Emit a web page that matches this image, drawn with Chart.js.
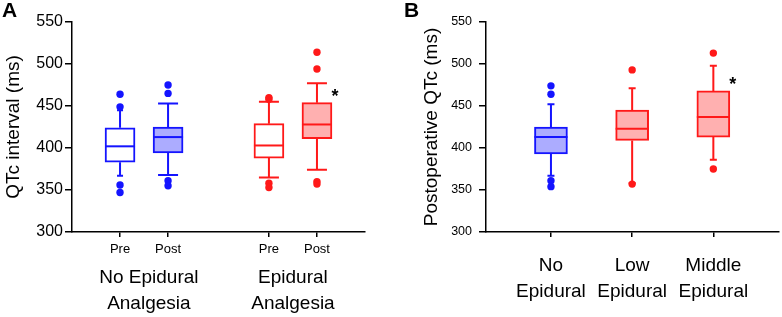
<!DOCTYPE html>
<html><head><meta charset="utf-8">
<script src="https://cdn.jsdelivr.net/npm/chart.js@4.4.0/dist/chart.umd.min.js"></script>
<style>
html,body{margin:0;padding:0;background:#fff;}
#wrap{position:relative;width:782px;height:317px;overflow:hidden;}
#ca{position:absolute;left:0;top:0;}
#cb{position:absolute;left:400px;top:0;}
</style></head><body>
<div id="wrap"><canvas id="ca" width="400" height="317"></canvas><canvas id="cb" width="382" height="317"></canvas></div>
<script>
// ---------- Panel A data ----------
const aCategories = ['Pre', 'Post', 'Pre', 'Post'];
const aGroupLabels = [['No Epidural', 'Analgesia'], ['Epidural', 'Analgesia']];
const aMin    = [367, 368, 365, 374];
const aQ1     = [383, 394, 388, 411];
const aMedian = [402, 413, 403, 428];
const aQ3     = [424, 425, 429, 454];
const aMax    = [445, 453, 455, 477];
const aOutliers = [[464, 449, 356, 347], [475, 465, 361, 355], [460, 458, 358, 353], [514, 494, 360, 357]];
const aMarks  = ['', '', '', '*'];
const aYTitle = 'QTc interval (ms)';

// ---------- Panel B data ----------
const bCategories = [['No', 'Epidural'], ['Low', 'Epidural'], ['Middle', 'Epidural']];
const bMin    = [367, 358, 386];
const bQ1     = [393, 409, 413];
const bMedian = [413, 423, 437];
const bQ3     = [425, 445, 468];
const bMax    = [452, 471, 498];
const bOutliers = [[474, 464, 361, 354], [493, 357], [513, 375]];
const bMarks  = ['', '', '*'];
const bYTitle = 'Postoperative QTc (ms)';

const yTicks = [300, 350, 400, 450, 500, 550];

// ---------- layout / style (not data) ----------
const FONT = '"Liberation Sans", Arial, Helvetica, sans-serif';
const BLUE = 'rgb(20,20,255)', BLUE_FILL = 'rgb(172,172,255)';
const RED = 'rgb(255,25,25)', RED_FILL = 'rgb(255,176,176)';
const aPos = [1, 2, 4.1, 5.1], aGroupPos = [1.6, 4.6];
const bPos = [0.8, 1.8, 2.8];

Chart.defaults.font.family = FONT;
Chart.defaults.color = '#000';

function makeBoxPlugin(cfg) {
  return {
    id: 'boxExtras' + cfg.letter,
    beforeDatasetsDraw(chart) {
      const {ctx, scales: {x, y}} = chart;
      ctx.save();
      ctx.lineWidth = 2;
      cfg.pos.forEach((p, i) => {
        const px = x.getPixelForValue(p);
        const yMax = y.getPixelForValue(cfg.max[i]), yQ3 = y.getPixelForValue(cfg.q3[i]);
        const yMin = y.getPixelForValue(cfg.min[i]), yQ1 = y.getPixelForValue(cfg.q1[i]);
        const cw = cfg.capWidth[i] / 2;
        ctx.strokeStyle = cfg.stroke[i];
        ctx.beginPath();
        ctx.moveTo(px, yQ3); ctx.lineTo(px, yMax);
        ctx.moveTo(px, yQ1); ctx.lineTo(px, yMin);
        ctx.moveTo(px - cw, yMax); ctx.lineTo(px + cw, yMax);
        ctx.moveTo(px - cw, yMin); ctx.lineTo(px + cw, yMin);
        ctx.stroke();
      });
      ctx.restore();
    },
    afterDatasetsDraw(chart) {
      const {ctx, scales: {x, y}} = chart;
      ctx.save();
      ctx.lineWidth = 2;
      cfg.pos.forEach((p, i) => {
        const px = x.getPixelForValue(p);
        const ym = y.getPixelForValue(cfg.median[i]);
        const hw = cfg.boxWidth / 2;
        ctx.strokeStyle = cfg.stroke[i];
        ctx.beginPath();
        ctx.moveTo(px - hw, ym); ctx.lineTo(px + hw, ym);
        ctx.stroke();
        if (cfg.marks[i]) {
          ctx.fillStyle = '#000';
          ctx.font = 'bold 18px ' + FONT;
          ctx.textAlign = 'center';
          ctx.textBaseline = 'alphabetic';
          ctx.fillText(cfg.marks[i], px + hw + 3, y.getPixelForValue(cfg.q3[i]) - 1);
        }
      });
      ctx.restore();
    },
    afterDraw(chart) {
      const ctx = chart.ctx;
      ctx.save();
      ctx.fillStyle = '#000';
      ctx.font = 'bold 21px ' + FONT;
      ctx.textAlign = 'left';
      ctx.textBaseline = 'alphabetic';
      ctx.fillText(cfg.letter, cfg.letterX, 17);
      ctx.restore();
    }
  };
}

function buildChart(el, cfg) {
  const boxes = cfg.pos.map((p, i) => ({x: p, y: [cfg.q1[i], cfg.q3[i]]}));
  const pts = [], ptColors = [];
  cfg.outliers.forEach((arr, i) => arr.forEach(v => { pts.push({x: cfg.pos[i], y: v}); ptColors.push(cfg.stroke[i]); }));
  const scales = {
    x: {
      type: 'linear', min: cfg.xMin, max: cfg.xMax, position: 'bottom', offset: false,
      afterBuildTicks: s => { s.ticks = cfg.pos.map(v => ({value: v})); },
      afterFit: s => { s.height = cfg.xHeight; },
      ticks: {autoSkip: false, maxRotation: 0, minRotation: 0, color: '#000',
        font: {size: cfg.xFont, lineHeight: cfg.xLineHeight}, padding: cfg.xPad,
        callback: (v, i) => cfg.categories[i]},
      grid: {drawOnChartArea: false, drawTicks: true, tickLength: 5, color: '#000', lineWidth: 1.5, offset: false},
      border: {display: true, color: '#000', width: 1.5}
    },
    y: {
      type: 'linear', min: 300, max: 550, position: 'left',
      afterBuildTicks: s => { s.ticks = yTicks.map(v => ({value: v})); },
      afterFit: s => { s.width = cfg.yWidth; },
      ticks: {color: '#000', font: {size: cfg.yFont}, padding: cfg.yPad},
      grid: {drawOnChartArea: false, drawTicks: true, tickLength: cfg.yTick, color: '#000', lineWidth: 1.5},
      border: {display: true, color: '#000', width: 1.5},
      title: {display: true, text: cfg.yTitle, color: '#000', font: {size: 19}, padding: {top: cfg.titlePad, bottom: 0}}
    }
  };
  if (cfg.groupLabels) {
    scales.x2 = {
      type: 'linear', min: cfg.xMin, max: cfg.xMax, position: 'bottom', offset: false,
      afterBuildTicks: s => { s.ticks = cfg.groupPos.map(v => ({value: v})); },
      afterFit: s => { s.height = cfg.x2Height; },
      ticks: {autoSkip: false, maxRotation: 0, minRotation: 0, color: '#000',
        font: {size: 19, lineHeight: 1.37}, padding: 3,
        callback: (v, i) => cfg.groupLabels[i]},
      grid: {display: false, drawTicks: false, drawOnChartArea: false},
      border: {display: false}
    };
  }
  return new Chart(el, {
    type: 'bar',
    data: {
      datasets: [
        {type: 'scatter', data: pts, pointBackgroundColor: ptColors, pointBorderWidth: 0,
          pointRadius: 3.7, pointHoverRadius: 3.7, order: 0, xAxisID: 'x', yAxisID: 'y'},
        {type: 'bar', data: boxes, backgroundColor: cfg.fill, borderColor: cfg.stroke, borderWidth: 2,
          borderSkipped: false, barThickness: cfg.boxWidth, grouped: false, order: 1, xAxisID: 'x', yAxisID: 'y'}
      ]
    },
    options: {
      responsive: false, animation: false, devicePixelRatio: 1,
      layout: {padding: {top: 22, right: cfg.padRight, left: 0, bottom: 0}},
      plugins: {legend: {display: false}, tooltip: {enabled: false}},
      events: [],
      scales
    },
    plugins: [makeBoxPlugin(cfg)]
  });
}

buildChart(document.getElementById('ca'), {
  letter: 'A', letterX: 2,
  categories: aCategories, groupLabels: aGroupLabels, groupPos: aGroupPos, pos: aPos,
  min: aMin, q1: aQ1, median: aMedian, q3: aQ3, max: aMax, outliers: aOutliers, marks: aMarks,
  stroke: [BLUE, BLUE, RED, RED], fill: ['#fff', BLUE_FILL, '#fff', RED_FILL],
  capWidth: [6, 20, 20, 20], boxWidth: 30,
  xMin: 0, xMax: 6.1, xHeight: 30, x2Height: 55, xFont: 13, xLineHeight: 1.2, xPad: 5,
  yWidth: 72, yFont: 16, yPad: 2, yTick: 7, titlePad: 2, yTitle: aYTitle, padRight: 35
});

buildChart(document.getElementById('cb'), {
  letter: 'B', letterX: 4,
  categories: bCategories, pos: bPos,
  min: bMin, q1: bQ1, median: bMedian, q3: bQ3, max: bMax, outliers: bOutliers, marks: bMarks,
  stroke: [BLUE, RED, RED], fill: [BLUE_FILL, RED_FILL, RED_FILL],
  capWidth: [7, 7, 7], boxWidth: 33,
  xMin: 0, xMax: 3.6, xHeight: 85, xFont: 19, xLineHeight: 1.37, xPad: 16,
  yWidth: 86, yFont: 12.5, yPad: 7, yTick: 7, titlePad: 20, yTitle: bYTitle, padRight: 2
});
</script>
</body></html>
